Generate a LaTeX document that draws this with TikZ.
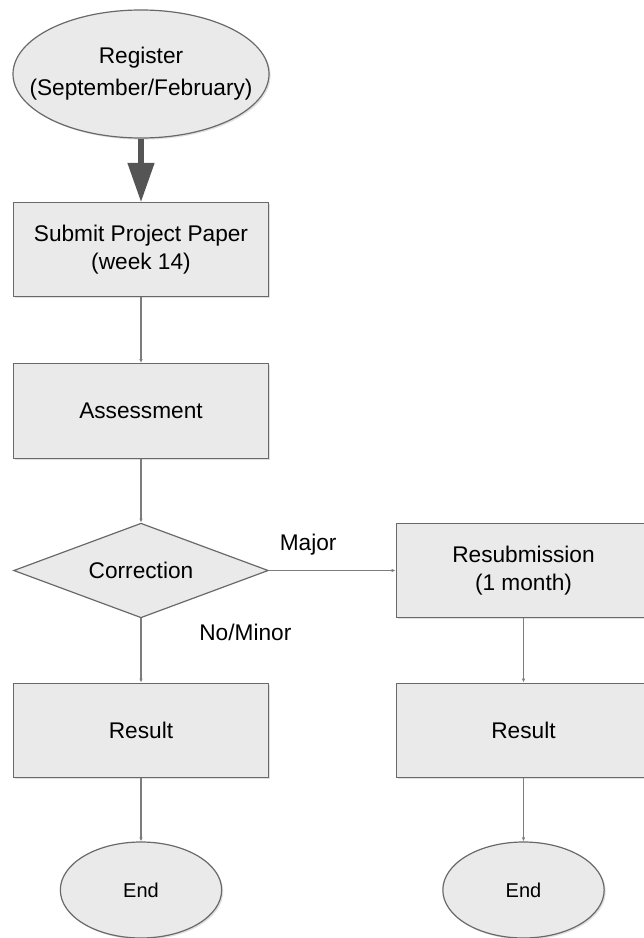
\documentclass[tikz,border=0pt]{standalone}
\usepackage{fontspec}
\setmainfont{Liberation Sans}
\usepackage{tikz}
\usetikzlibrary{shapes, arrows.meta, positioning, shadows}
\definecolor{boxfill}{RGB}{234,234,234}
\definecolor{boxline}{RGB}{105,105,105}
\definecolor{linegray}{RGB}{125,125,125}
\definecolor{fatgray}{RGB}{85,85,85}
\tikzstyle{shd}  = [drop shadow={shadow xshift=1.2pt, shadow yshift=-1.2pt, opacity=0.12, fill=black}]
\tikzstyle{txt}  = [font=\fontsize{17}{21}\selectfont, align=center]
\tikzstyle{rect} = [draw=boxline, fill=boxfill, line width=0.9pt, txt, shd, minimum width=191pt, minimum height=71pt]
\tikzstyle{oval} = [draw=boxline, fill=boxfill, line width=0.9pt, txt, shd, ellipse, inner sep=0pt]
\tikzstyle{dia}  = [draw=boxline, fill=boxfill, line width=0.9pt, txt, diamond, aspect=2.68, inner sep=0pt, minimum width=191pt, minimum height=71pt]
\tikzstyle{->}   = [draw, color=linegray, line width=0.9pt, -{Latex[length=3pt, width=2.6pt]}]
\tikzstyle{fat}  = [draw, color=fatgray, line width=5pt, -{Triangle[width=20.5pt, length=29pt, line width=0pt]}]

\begin{document}
\begin{tikzpicture}[x=7.5pt, y=-7.5pt]

\useasboundingbox (0,0) rectangle (64.3,93.8);

% nodes
\node [oval, inner xsep=-16pt, minimum width=192pt, minimum height=96pt] at ( 14.1 ,  7.4 ) (reg)   {Register\\[3pt](September/February)};
\node [rect]                                                             at ( 14.1 , 24.95) (sub)   {Submit Project Paper\\(week 14)};
\node [rect]                                                             at ( 14.1 , 41.1 ) (ass)   {Assessment};
\node [dia]                                                              at ( 14.1 , 57.05) (cor)   {Correction};
\node [rect]                                                             at ( 52.35, 57.05) (resub) {Resubmission\\(1 month)};
\node [rect]                                                             at ( 14.1 , 73.05) (resL)  {Result};
\node [rect]                                                             at ( 52.35, 73.05) (resR)  {Result};
\node [oval, font=\fontsize{15}{18}\selectfont, minimum width=121pt, minimum height=72pt] at ( 14.1 , 89.0 ) (endL)  {End};
\node [oval, font=\fontsize{15}{18}\selectfont, minimum width=121pt, minimum height=72pt] at ( 52.35, 89.0 ) (endR)  {End};

% edges
\path [fat] (reg) edge (sub);

\path [->]
  (sub)   edge                                                    (ass)
  (ass)   edge                                                    (cor)
  (cor)   edge node [txt, text=black, above=8pt,  pos=0.31] {Major}    (resub)
  (cor)   edge node [txt, text=black, right=40pt, pos=0.22] {No/Minor} (resL)
  (resub) edge                                                    (resR)
  (resL)  edge                                                    (endL)
  (resR)  edge                                                    (endR);

\end{tikzpicture}
\end{document}
